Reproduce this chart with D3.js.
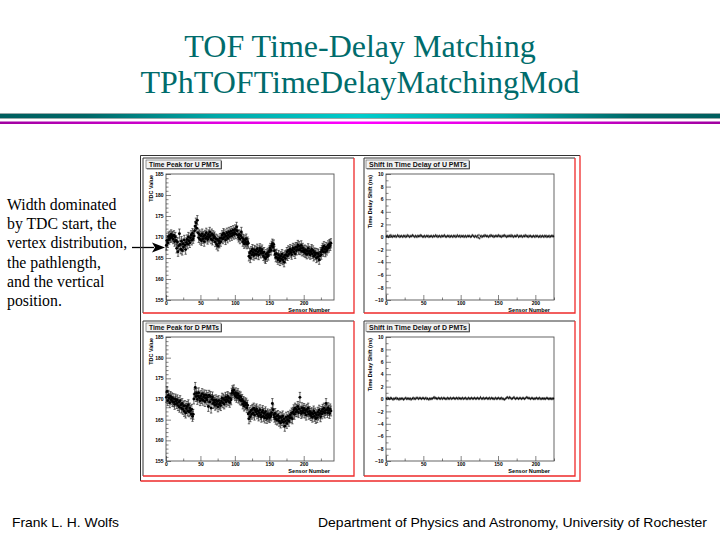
<!DOCTYPE html>
<html>
<head>
<meta charset="utf-8">
<script src="https://d3js.org/d3.v7.min.js"></script>
<style>
  body { margin: 0; background: #fff; }
  svg text { font-family: "Liberation Sans", Arial, sans-serif; }
</style>
</head>
<body>
<div id="slide"></div>
<script>
// ---- data ----
const tdcTicks = [155, 160, 165, 170, 175, 180, 185];
const shiftTicks = [-10, -8, -6, -4, -2, 0, 2, 4, 6, 8, 10];
const sensorTicks = [0, 50, 100, 150, 200];

// time peak (TDC value) per sensor, U PMTs
const uPeak = [
  168.0,169.2,168.6,170.1,169.4,170.3,169.8,170.6,169.9,170.2,
  169.5,170.4,168.9,170.0,169.2,167.3,168.8,166.5,167.9,170.8,
  168.2,167.1,169.0,166.8,168.4,167.6,169.3,168.1,167.0,168.7,
  169.4,168.3,170.0,169.1,168.6,169.8,170.4,169.2,170.9,169.6,
  170.2,171.5,172.6,173.4,172.1,174.0,171.0,169.8,170.6,169.4,
  170.3,169.1,170.8,169.6,170.2,168.9,170.5,169.7,171.0,170.1,
  169.4,170.6,169.9,171.2,170.3,169.5,170.8,169.2,170.4,169.8,
  170.1,168.8,169.6,168.2,169.4,167.8,169.1,168.5,169.7,168.9,
  169.8,170.4,169.5,170.9,169.9,170.6,169.3,170.2,171.0,169.7,
  170.5,171.2,170.1,170.8,171.4,170.3,170.9,171.6,170.6,171.1,
  171.8,170.7,172.4,171.5,170.4,169.9,170.6,169.5,170.3,171.2,
  169.8,168.9,169.5,168.4,169.2,168.7,169.6,168.3,168.9,168.5,
  165.4,166.2,165.0,166.6,165.8,167.1,166.3,165.6,166.9,166.0,
  166.7,165.9,167.2,166.4,165.7,166.8,167.3,166.1,166.6,167.0,
  166.2,165.5,166.4,165.1,164.8,165.9,165.3,166.2,165.6,166.5,
  166.9,167.4,166.8,167.9,168.4,167.6,168.2,166.7,165.9,165.2,
  166.0,165.1,164.6,165.7,165.0,164.3,165.4,164.8,165.9,164.5,
  165.2,164.0,165.6,164.9,165.8,166.4,165.5,166.8,166.0,166.6,
  167.1,166.3,165.8,166.9,167.4,166.5,167.2,166.0,167.6,166.8,
  167.5,168.1,167.0,167.8,166.9,167.3,168.0,166.6,167.4,166.8,
  166.4,167.0,166.2,166.8,165.9,166.6,167.3,166.1,166.7,165.8,
  166.5,167.1,166.0,166.8,165.4,166.3,165.7,166.2,165.0,166.1,
  165.3,166.0,164.6,165.5,166.4,165.8,166.9,167.4,166.5,167.8,
  167.1,166.4,167.6,166.8,167.3,168.0,167.5,168.3,167.9,168.5
];

// time peak (TDC value) per sensor, D PMTs
const dPeak = [
  170.4,171.8,169.6,170.9,170.2,169.1,170.6,169.8,170.3,169.4,
  170.1,169.3,168.7,170.0,169.5,168.9,169.8,168.4,169.2,168.0,
  169.6,168.6,167.8,168.9,167.5,168.3,167.0,168.4,166.6,167.7,
  168.2,167.1,168.6,166.9,167.8,167.2,166.4,167.5,165.8,166.3,
  170.0,171.2,172.8,170.6,171.4,169.9,170.7,171.5,170.3,169.6,
  170.8,170.1,171.3,169.7,170.5,171.0,169.4,170.2,170.9,169.8,
  170.4,168.2,170.9,169.3,170.6,167.8,169.9,170.5,168.9,169.7,
  169.2,168.5,169.8,168.8,169.4,168.1,169.6,168.7,169.0,168.4,
  169.5,170.2,169.1,170.0,168.8,169.7,170.4,169.3,169.9,170.6,
  169.6,170.3,169.2,170.1,169.8,171.4,172.0,171.6,172.2,171.2,
  170.8,171.5,170.4,170.9,171.3,170.2,170.7,169.8,170.5,169.6,
  169.9,168.8,169.4,168.3,169.1,168.6,169.0,167.9,168.5,166.4,
  165.2,166.8,165.7,167.2,166.3,167.5,166.6,167.8,166.1,167.3,
  166.9,167.6,166.4,167.1,165.9,166.7,167.4,166.2,165.6,166.8,
  167.2,165.8,166.5,165.4,166.9,166.0,165.3,166.4,165.7,166.1,
  165.5,166.3,165.9,166.7,168.9,167.4,166.2,165.6,166.5,165.1,
  165.8,164.9,166.0,165.3,164.6,165.7,164.2,165.5,164.8,165.9,
  164.4,165.2,163.4,164.7,165.6,164.1,165.0,165.8,164.6,165.4,
  166.1,165.5,166.6,165.2,166.8,167.4,166.3,167.8,166.9,167.5,
  167.0,168.2,166.7,167.6,170.4,167.1,166.5,167.9,166.8,167.3,
  167.7,166.6,167.2,166.1,167.5,166.9,167.8,166.3,167.0,166.5,
  166.0,166.7,165.6,166.4,167.1,165.8,166.6,165.3,166.2,165.5,
  166.8,166.1,167.3,166.5,165.7,167.0,166.4,167.5,166.9,167.8,
  166.6,167.2,168.9,167.4,166.7,167.9,167.2,166.5,167.6,167.1
];
const uPeakErr = 1.1;
const dPeakErr = 1.2;

// shift in time delay (ns) per sensor
const uShift = [
  0.1,0.2,0.1,0.0,0.2,0.1,0.3,0.1,0.0,0.2,0.1,0.1,0.2,0.0,0.1,
  0.3,0.1,0.2,0.0,0.1,0.2,0.1,0.0,0.2,0.1,0.2,0.0,0.1,0.3,0.1,
  0.2,0.0,0.1,0.2,0.1,0.3,0.2,0.1,0.0,0.2,0.1,0.0,0.2,0.1,0.2,
  0.1,0.3,0.2,0.1,0.0,0.1,0.2,0.0,0.1,0.2,0.1,0.2,0.0,0.1,0.1,
  0.2,0.1,0.0,0.2,0.1,0.1,0.3,0.1,0.2,0.0,0.1,0.2,0.1,0.0,0.2,
  0.1,0.2,0.1,0.3,0.1,0.0,0.1,0.2,0.1,0.2,0.0,0.1,0.2,0.1,0.0,
  0.2,0.1,0.2,0.0,0.1,0.3,0.1,0.1,0.2,0.0,0.2,0.1,0.1,0.2,0.0,
  0.1,0.2,0.0,0.1,0.2,0.1,0.2,0.1,0.0,0.1,0.3,0.2,0.1,0.0,0.2,
  0.1,0.0,0.2,-0.1,0.3,-0.2,0.1,0.2,0.0,0.1,0.2,0.1,0.3,0.2,0.1,
  0.2,0.1,0.0,0.2,0.1,0.3,0.2,0.1,0.2,0.0,0.1,0.2,0.1,0.2,0.1,
  0.3,0.1,0.2,0.1,0.0,0.2,0.1,0.2,0.3,0.1,0.2,0.0,0.1,0.2,0.1,
  0.2,0.1,0.3,0.1,0.2,0.0,0.1,0.2,0.1,0.1,0.3,0.2,0.0,0.1,0.2,
  0.1,0.2,0.0,0.1,0.2,0.1,0.3,0.1,0.2,0.1,0.0,0.2,0.1,0.2,0.1,
  0.0,0.1,0.2,0.1,0.0,0.2,0.1,0.2,0.1,0.0,0.1,0.2,0.0,0.1,0.2,
  0.1,0.0,0.2,0.1,0.2,0.0,0.1,0.1,0.2,0.0,0.1,0.2,0.1,0.2,0.1
];
const dShift = [
  0.1,0.0,0.2,0.1,0.0,0.1,0.2,0.1,0.0,-0.1,0.1,0.0,0.1,0.2,0.0,
  0.1,0.0,-0.1,0.1,0.0,0.1,0.0,0.1,-0.1,0.0,0.1,0.2,0.0,0.1,0.0,
  0.1,0.0,0.1,-0.1,0.0,0.1,0.2,0.0,0.1,0.0,0.2,0.1,0.2,0.0,0.1,
  0.2,0.1,0.0,0.1,0.2,0.1,0.0,0.1,0.2,0.0,0.1,0.0,-0.1,0.1,0.0,
  0.1,0.0,0.1,0.2,0.3,0.1,0.2,0.1,0.0,0.1,0.2,0.1,0.0,0.1,0.2,
  0.0,0.1,0.2,0.1,0.0,0.1,0.0,0.2,0.1,0.0,0.1,0.2,0.0,0.1,0.1,
  0.2,0.1,0.0,0.1,0.2,0.1,0.0,0.2,0.1,0.1,0.0,0.1,0.2,0.0,0.1,
  0.1,0.2,0.0,0.1,0.0,0.2,0.1,0.0,0.1,0.2,0.1,0.0,0.1,0.2,0.1,
  0.0,0.1,0.2,0.1,0.0,0.1,0.3,0.1,0.0,0.1,0.2,0.0,0.1,0.1,0.2,
  0.1,0.0,0.1,0.2,0.0,0.1,0.2,0.1,0.0,0.1,0.0,0.2,0.1,0.0,0.1,
  0.2,0.1,0.0,0.1,0.2,0.0,0.1,0.0,-0.1,0.0,0.1,0.2,0.3,0.2,0.1,
  0.3,0.2,0.1,0.0,0.1,0.2,0.3,0.1,0.0,0.1,0.2,0.1,0.0,0.1,0.2,
  0.1,0.0,0.1,0.2,0.1,0.0,0.1,0.2,0.3,0.2,0.1,0.2,0.1,0.0,0.1,
  0.2,0.1,0.0,0.1,0.0,0.1,0.2,0.1,0.0,0.1,0.2,0.0,0.1,0.0,0.1,
  0.1,0.0,0.1,0.0,0.1,0.2,0.1,0.0,0.1,0.0,0.1,0.0,0.1,0.0,0.1
];
const shiftErr = 0.15;

const titleLines = ["TOF Time-Delay Matching", "TPhTOFTimeDelayMatchingMod"];
const noteLines = ["Width dominated", "by TDC start, the", "vertex distribution,",
                   "the pathlength,", "and the vertical", "position."];

// ---- slide ----
const serif = "'Liberation Serif', 'Times New Roman', serif";
const svg = d3.select("#slide").append("svg")
    .attr("width", 720).attr("height", 540);
const defs = svg.append("defs");

svg.append("g").selectAll("text")
    .data(titleLines).join("text")
    .attr("x", 360).attr("y", (d, i) => 56.5 + i * 36.5)
    .attr("text-anchor", "middle")
    .style("font-family", serif)
    .style("font-size", "32px")
    .attr("fill", "#006c6c")
    .text(d => d);

// teal bar + magenta rule
const tg = defs.append("linearGradient").attr("id", "teal");
[[0, "#005e5e"], [0.12, "#006868"], [0.3, "#00a8a8"], [0.5, "#00cccc"],
 [0.7, "#00a8a8"], [0.88, "#006868"], [1, "#005e5e"]]
  .forEach(s => tg.append("stop").attr("offset", s[0]).attr("stop-color", s[1]));
const mg = defs.append("linearGradient").attr("id", "mag");
[[0, "#a000a0"], [0.3, "#e000e0"], [0.5, "#ff00ff"], [0.7, "#e000e0"], [1, "#a000a0"]]
  .forEach(s => mg.append("stop").attr("offset", s[0]).attr("stop-color", s[1]));
svg.append("rect").attr("x", 0).attr("y", 113).attr("width", 720).attr("height", 6)
    .attr("fill", "#9aa");
svg.append("rect").attr("x", 0).attr("y", 114).attr("width", 720).attr("height", 4)
    .attr("fill", "url(#teal)");
svg.append("rect").attr("x", 0).attr("y", 121.5).attr("width", 720).attr("height", 2.5)
    .attr("fill", "url(#mag)");

// side note + arrow
svg.append("g").selectAll("text")
    .data(noteLines).join("text")
    .attr("x", 7).attr("y", (d, i) => 210 + i * 19.2)
    .style("font-family", serif)
    .style("font-size", "15.8px")
    .attr("fill", "#000")
    .text(d => d);
svg.append("line").attr("x1", 132).attr("y1", 247.5).attr("x2", 154).attr("y2", 247.5)
    .attr("stroke", "#000").attr("stroke-width", 1.3);
svg.append("path").attr("d", "M152,242.5 L165,247.5 L152,252.5 L155,247.5 Z").attr("fill", "#000");

// footer
svg.append("text").attr("x", 12).attr("y", 527)
    .style("font-size", "13.5px").attr("textLength", 107).attr("lengthAdjust", "spacingAndGlyphs")
    .text("Frank L. H. Wolfs");
svg.append("text").attr("x", 318).attr("y", 527)
    .style("font-size", "13.5px").attr("textLength", 389).attr("lengthAdjust", "spacingAndGlyphs")
    .text("Department of Physics and Astronomy, University of Rochester");

// ---- ROOT canvas ----
const red = "#ee2a2a";
function frame(g, x0, y0, x1, y1, w) {
  g.append("path").attr("d", `M${x0},${y1} L${x0},${y0} L${x1},${y0}`)
    .attr("fill", "none").attr("stroke", "#333").attr("stroke-width", w);
  g.append("path").attr("d", `M${x1},${y0} L${x1},${y1} L${x0},${y1}`)
    .attr("fill", "none").attr("stroke", red).attr("stroke-width", w + 0.3);
}
const canvas = svg.append("g");
frame(canvas, 140.5, 155.5, 580, 481, 1);

const panels = [
  {box: [143, 158, 354, 313], plot: [166, 334, 174, 300], title: "Time Peak for U PMTs", tb: [146, 221],
   values: uPeak, err: uPeakErr, xmax: 244, ydom: [155, 185], yticks: tdcTicks, yminor: 1,
   ylabel: "TDC Value", big: true},
  {box: [364, 158, 575, 313], plot: [386, 554, 174, 300], title: "Shift in Time Delay of U PMTs", tb: [366, 469],
   values: uShift, err: shiftErr, xmax: 225, ydom: [-10, 10], yticks: shiftTicks, yminor: 1,
   ylabel: "Time Delay Shift (ns)", big: false},
  {box: [143, 321, 354, 476], plot: [166, 334, 337, 461], title: "Time Peak for D PMTs", tb: [146, 221],
   values: dPeak, err: dPeakErr, xmax: 244, ydom: [155, 185], yticks: tdcTicks, yminor: 1,
   ylabel: "TDC Value", big: true},
  {box: [364, 321, 575, 476], plot: [386, 554, 337, 461], title: "Shift in Time Delay of D PMTs", tb: [366, 469],
   values: dShift, err: shiftErr, xmax: 225, ydom: [-10, 10], yticks: shiftTicks, yminor: 1,
   ylabel: "Time Delay Shift (ns)", big: false}
];

panels.forEach(p => {
  const g = canvas.append("g");
  const [bx0, by0, bx1, by1] = p.box;
  frame(g, bx0, by0, bx1, by1, 1);

  const [l, r, t, b] = p.plot;
  const x = d3.scaleLinear().domain([0, p.xmax]).range([l, r]);
  const y = d3.scaleLinear().domain(p.ydom).range([b, t]);

  // plot frame
  g.append("rect").attr("x", l).attr("y", t).attr("width", r - l).attr("height", b - t)
    .attr("fill", "#fff").attr("stroke", "#555").attr("stroke-width", 0.9);

  // axes with inward ticks
  const fontAxis = a => a.selectAll("text")
      .style("font-family", "'Liberation Sans', Arial, sans-serif")
      .style("font-size", "5px").style("font-weight", "bold").attr("fill", "#000");
  const tickStyle = a => a.selectAll("line").attr("stroke", "#333").attr("stroke-width", 0.6);
  const xMinor = d3.range(0, p.xmax + 0.01, 25).filter(v => v % 50 !== 0);
  g.append("g").attr("transform", `translate(0,${b})`)
    .call(d3.axisBottom(x).tickValues(xMinor).tickSize(-2.5).tickFormat(""))
    .call(a => a.select(".domain").remove())
    .call(tickStyle);
  g.append("g").attr("transform", `translate(0,${b})`)
    .call(d3.axisBottom(x).tickValues(sensorTicks).tickSize(-5).tickPadding(1.8))
    .call(a => a.select(".domain").remove())
    .call(tickStyle)
    .call(fontAxis);
  const yMinor = d3.range(p.ydom[0], p.ydom[1] + 0.01, p.yminor).filter(v => !p.yticks.includes(v));
  g.append("g").attr("transform", `translate(${l},0)`)
    .call(d3.axisLeft(y).tickValues(yMinor).tickSize(-2.5).tickFormat(""))
    .call(a => a.select(".domain").remove())
    .call(tickStyle);
  g.append("g").attr("transform", `translate(${l},0)`)
    .call(d3.axisLeft(y).tickValues(p.yticks).tickSize(-5).tickPadding(2.5))
    .call(a => a.select(".domain").remove())
    .call(tickStyle)
    .call(fontAxis);

  // axis titles
  g.append("text").attr("x", r - 4).attr("y", b + 11.8)
    .attr("text-anchor", "end")
    .style("font-size", "5.6px").style("font-weight", "bold")
    .text("Sensor Number");
  g.append("text")
    .attr("transform", `translate(${l - (p.big ? 13.5 : 14.5)},${t + 1}) rotate(-90)`)
    .attr("text-anchor", "end")
    .style("font-size", "5.4px").style("font-weight", "bold")
    .text(p.ylabel);

  // title box
  const [tx0, tx1] = p.tb;
  g.append("rect").attr("x", tx0 + 0.8).attr("y", by0 + 2.8).attr("width", tx1 - tx0).attr("height", 8.5)
    .attr("fill", "#222");
  g.append("rect").attr("x", tx0).attr("y", by0 + 2).attr("width", tx1 - tx0).attr("height", 8.5)
    .attr("fill", "#f2f2f2").attr("stroke", "#555").attr("stroke-width", 0.6);
  g.append("text").attr("x", tx0 + 3).attr("y", by0 + 8.6)
    .style("font-size", "6.4px").style("font-weight", "bold").attr("fill", "#111")
    .attr("textLength", tx1 - tx0 - 5).attr("lengthAdjust", "spacingAndGlyphs")
    .text(p.title);

  // points with error bars
  const pts = g.append("g");
  const cap = p.big ? 1.2 : 0.4;
  pts.selectAll("path.err").data(p.values).join("path").attr("class", "err")
    .attr("d", (v, i) => {
      const cx = x(i + 0.5), y0 = y(v - p.err), y1 = y(v + p.err);
      return `M${cx},${y0}V${y1}M${cx - cap},${y0}H${cx + cap}M${cx - cap},${y1}H${cx + cap}`;
    })
    .attr("fill", "none").attr("stroke", p.big ? "#1a1a1a" : "#222").attr("stroke-width", p.big ? 0.65 : 0.5);
  pts.selectAll("circle").data(p.values).join("circle")
    .attr("cx", (v, i) => x(i + 0.5)).attr("cy", v => y(v))
    .attr("r", p.big ? 1.45 : 0.6).attr("fill", "#000");
});
</script>
</body>
</html>
